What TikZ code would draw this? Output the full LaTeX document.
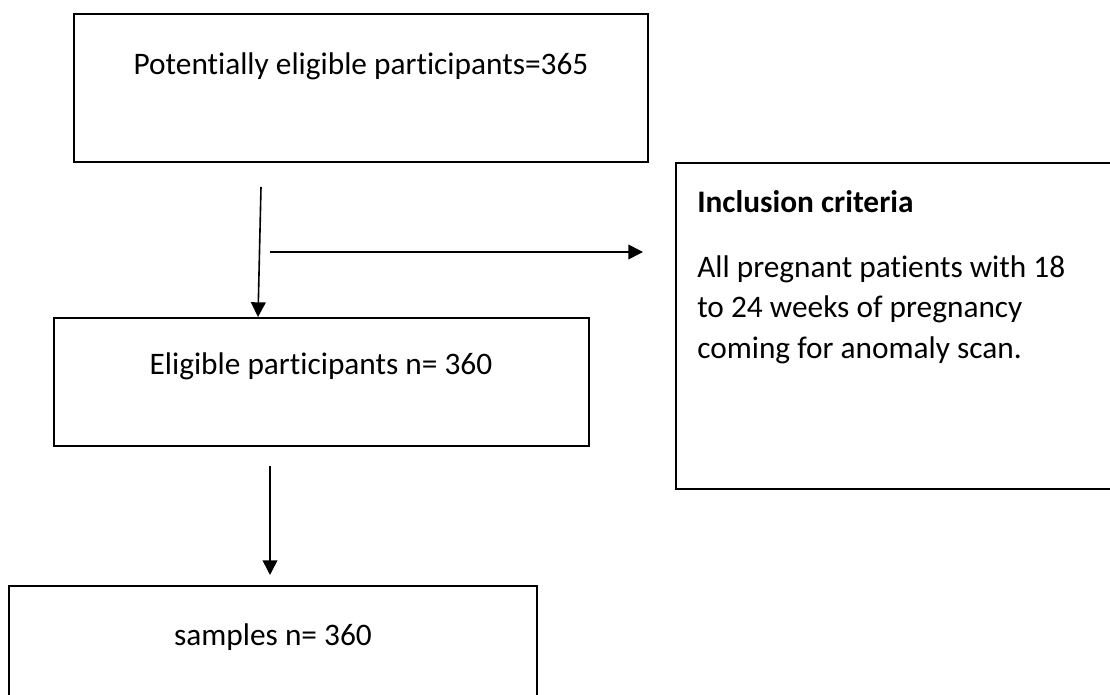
\documentclass[tikz,border=0pt]{standalone}
\usepackage{fontspec}
\setmainfont{Carlito}[Ligatures={NoCommon}]
\usetikzlibrary{arrows.meta,fit}

\tikzset{
  flowbox/.style={draw, line width=1.5pt, inner sep=0pt},
  flowarrow/.style={line width=1.2pt, -{Triangle[length=11pt,width=11pt]}},
  boxtext/.style={anchor=base, font=\fontsize{23.5}{30.4}\selectfont, inner sep=0pt},
  crittext/.style={boxtext, anchor=base west},
}

\begin{document}
\begin{tikzpicture}[x=0.75pt, y=-0.75pt]
  \useasboundingbox (0,0) rectangle (1110,695);

  % boxes
  \node[flowbox, fit={(74,14) (648,162)}] (potential) {};
  \node[flowbox, fit={(676,163) (1116,489)}] (inclusion) {};
  \node[flowbox, fit={(54,318) (589,446)}] (eligible) {};
  \node[flowbox, fit={(9,586) (537,705)}] (samples) {};

  % box texts
  \node[boxtext] (potentialtxt) at (361,75) {Potentially eligible participants=365};
  \node[boxtext] (eligibletxt) at (321,374) {Eligible participants n= 360};
  \node[boxtext] (samplestxt) at (273,645) {samples n= 360};

  \node[crittext, font=\fontsize{23.5}{30.4}\selectfont\bfseries] (crittitle) at (697,213) {Inclusion criteria};
  \node[crittext] (critlineA) at (697,277) {All pregnant patients with 18};
  \node[crittext] (critlineB) at (697,317) {to 24 weeks of pregnancy};
  \node[crittext] (critlineC) at (697,358) {coming for anomaly scan.};

  % arrows
  \coordinate (downA) at (261,187);
  \coordinate (downAend) at (258,0);
  \draw[flowarrow] (downA) -- (downAend |- eligible.north);

  \coordinate (sideA) at (270,252);
  \coordinate (sideB) at (643,252);
  \draw[flowarrow] (sideA) -- (sideB);

  \coordinate (downB) at (270,466);
  \coordinate (downBend) at (270,575);
  \draw[flowarrow] (downB) -- (downBend);
\end{tikzpicture}
\end{document}
